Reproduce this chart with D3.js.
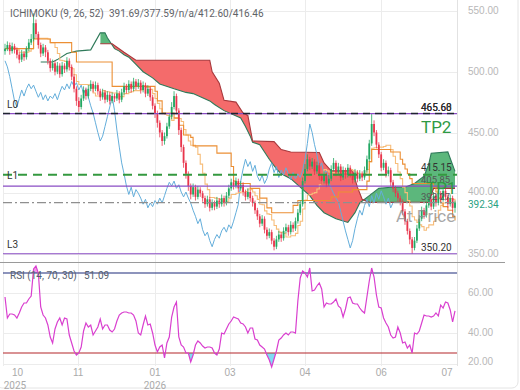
<!DOCTYPE html>
<html>
<head>
<meta charset="utf-8">
<script src="https://cdn.jsdelivr.net/npm/d3@7"></script>
<style>
  html, body { margin: 0; padding: 0; background: #fff; }
  svg { display: block; font-family: Roboto, 'Noto Sans', sans-serif; }
</style>
</head>
<body>
<div id="chart"></div>
<script>
// daily bars, open of each bar = previous close
const firstOpen = 517;
const closes = [
  519, 522, 517, 521, 518, 514, 510, 515, 512, 519,
  524, 527, 540, 531, 522, 515, 520, 516, 509, 503,
  507, 500, 505, 498, 505, 502, 509, 504, 496, 486,
  476, 471, 478, 485, 480, 486, 490, 486, 489, 484,
  479, 483, 477, 481, 476, 480, 478, 482, 477, 483,
  488, 485, 490, 486, 492, 488, 491, 485, 489, 482,
  486, 479, 472, 466, 458, 450, 443, 447, 455, 463,
  471, 480, 468, 452, 438, 425, 416, 406, 399, 405,
  397, 403, 400, 396, 391, 395, 388, 392, 389, 394,
  391, 396, 392, 398, 404, 409, 406, 410, 404, 407,
  401, 397, 401, 396, 392, 386, 381, 375, 379, 370,
  365, 368, 361, 356, 362, 366, 363, 369, 372, 368,
  374, 371, 377, 384, 391, 410, 420, 428, 422, 426,
  418, 423, 414, 410, 415, 408, 412, 420, 425, 417,
  422, 413, 419, 415, 421, 416, 411, 417, 412, 416,
  413, 419, 428, 441, 457, 450, 440, 432, 421, 425,
  416, 419, 409, 404, 400, 396, 393, 385, 377, 369,
  362, 355, 361, 371, 379, 386, 382, 390, 395, 389,
  398, 392, 400, 395, 402, 397, 391, 396, 388, 392.34
];
const highs = [
  523, 525, 524, 524, 523, 520, 516, 518, 517, 521,
  527, 531, 548, 543, 533, 524, 523, 522, 518, 511,
  510, 509, 508, 507, 508, 507, 512, 511, 506, 498,
  488, 479, 481, 488, 487, 489, 493, 492, 492, 491,
  486, 486, 485, 484, 483, 483, 482, 485, 484, 486,
  491, 490, 493, 492, 495, 494, 494, 493, 492, 491,
  489, 488, 481, 474, 468, 460, 452, 450, 458, 466,
  475, 484, 482, 470, 454, 440, 427, 418, 408, 408,
  407, 406, 405, 402, 398, 398, 397, 395, 394, 397,
  396, 399, 398, 401, 407, 412, 411, 413, 412, 410,
  409, 403, 404, 403, 398, 394, 388, 383, 382, 381,
  372, 371, 370, 363, 365, 369, 368, 372, 375, 374,
  377, 376, 380, 387, 394, 413, 424, 432, 430, 429,
  428, 426, 425, 416, 418, 417, 415, 423, 429, 427,
  425, 424, 422, 421, 424, 423, 418, 420, 419, 419,
  418, 422, 431, 444, 466, 460, 452, 442, 434, 428,
  427, 422, 421, 411, 406, 402, 398, 395, 387, 379,
  371, 364, 364, 374, 382, 389, 388, 393, 398, 397,
  401, 400, 403, 402, 405, 404, 399, 399, 398, 394
];
const lows = [
  514, 517, 514, 515, 515, 511, 507, 508, 509, 510,
  517, 522, 525, 528, 519, 512, 513, 512, 506, 500,
  501, 497, 498, 495, 496, 499, 500, 501, 493, 483,
  472, 467, 469, 476, 477, 478, 484, 483, 484, 481,
  476, 477, 474, 475, 473, 474, 475, 476, 474, 475,
  481, 482, 483, 483, 484, 485, 486, 482, 483, 479,
  480, 476, 469, 462, 454, 446, 439, 440, 445, 453,
  461, 469, 465, 448, 434, 421, 412, 402, 395, 397,
  394, 395, 397, 393, 388, 389, 385, 386, 386, 387,
  388, 389, 389, 390, 396, 402, 403, 404, 401, 402,
  398, 394, 395, 393, 389, 383, 378, 372, 373, 367,
  362, 363, 358, 353, 354, 360, 360, 361, 367, 365,
  366, 368, 369, 375, 382, 389, 408, 418, 419, 420,
  415, 416, 411, 407, 408, 405, 406, 410, 418, 414,
  415, 410, 411, 412, 413, 413, 408, 409, 409, 410,
  410, 411, 417, 426, 439, 447, 437, 429, 418, 419,
  413, 414, 406, 401, 397, 393, 390, 382, 374, 366,
  358, 350.2, 353, 359, 369, 377, 379, 380, 388, 386,
  387, 389, 390, 392, 393, 394, 388, 389, 385, 384
];

// ichimoku conversion line, one value per bar
const tenkan = [
  519, 519.5, 519.5, 519.5, 519, 518, 516, 516, 516, 516,
  517, 519, 527.5, 527.5, 527.5, 527.5, 527.5, 527.5, 527, 524,
  524, 520, 515, 509.5, 509, 508.5, 506.5, 503.5, 502.5, 497.5,
  492, 489.5, 489.5, 489.5, 489.5, 489, 486.5, 482.5, 480, 480,
  481, 484.5, 483.5, 483.5, 483, 482.5, 482.5, 482, 479.5, 479.5,
  482, 482, 483, 483.5, 484.5, 484.5, 484.5, 485, 488, 487,
  487, 485.5, 482, 478, 474, 469.5, 465.5, 465, 464, 463.5,
  460, 461.5, 461.5, 461.5, 459, 452.5, 448, 443, 439.5, 439.5,
  438, 432, 424, 416.5, 407.5, 403, 396.5, 396.5, 396, 395.5,
  395, 393.5, 392, 393, 396, 399, 399, 400, 400.5, 401,
  401, 401.5, 403.5, 403, 401, 398, 395, 391, 390.5, 385.5,
  383, 382.5, 378, 373.5, 370.5, 368, 367.5, 367, 364, 364,
  365, 365, 367, 373.5, 377, 387, 394.5, 398.5, 399, 400,
  400.5, 403.5, 407, 410.5, 419.5, 418.5, 417.5, 417, 417, 417,
  417, 417, 417, 417, 417.5, 419.5, 418.5, 417.5, 416.5, 416,
  416, 416, 419.5, 426, 437, 437.5, 437.5, 438, 438, 438.5,
  439.5, 439.5, 436, 430.5, 424.5, 417.5, 412, 405, 400.5, 394,
  389.5, 380.6, 378, 376, 374, 372.5, 369.6, 371.6, 374, 374,
  377, 380, 386, 390, 392, 392.5, 395.5, 395.5, 395, 391.69
];
// base line, [bar, value] where the step changes
const kijunSteps = [
  [0, 519], [12, 527], [19, 524], [28, 516], [30, 508], [45, 488], [63, 484],
  [64, 476], [66, 466], [71, 462], [73, 456], [75, 448], [78, 446], [79, 439],
  [89, 433], [95, 422], [96, 410], [97, 408], [103, 404], [107, 396], [110, 388],
  [112, 384], [121, 390], [123, 394], [137, 397], [140, 401], [146, 403],
  [152, 410], [153, 426], [154, 436], [162, 434], [166, 428], [167, 424],
  [168, 420], [169, 416], [170, 412], [171, 408], [180, 405], [181, 401],
  [182, 396], [183, 392], [184, 389], [186, 386], [188, 381], [189, 377.59]
];
// leading spans, [bar, value]
const spanA = [
  [15, 508], [20, 508], [22, 510], [26, 515], [30, 517], [36, 518], [38, 525],
  [40, 532], [42, 532], [43, 528], [45, 522], [46, 519], [48, 517], [50, 514],
  [52, 512], [55, 506], [58, 500], [62, 495], [65, 490], [71, 486], [76, 483],
  [79, 482], [86, 476], [88, 473], [92, 468], [99, 462], [101, 455], [103, 447],
  [104, 442], [107, 440], [109, 434], [111, 428], [114, 420], [116, 416],
  [120, 412], [124, 405], [128, 398], [131, 390], [134, 384], [139, 379],
  [144, 376], [147, 384], [149, 392], [153, 398], [157, 404], [162, 405],
  [168, 405], [172, 408], [176, 414], [178, 424], [179, 433], [186, 434], [189, 418]
];
const spanB = [
  [40, 523], [45, 523], [50, 516], [55, 509.5], [86, 509.5], [87, 500],
  [90, 490.5], [92, 476.5], [97, 475], [100, 466], [102, 464], [104, 443],
  [113, 442.5], [116, 436], [120, 434], [132, 433.5], [134, 425], [137, 418.5],
  [146, 418.5], [148, 405], [150, 395], [153, 392.5], [178, 392.5], [179, 398],
  [180, 404], [189, 404]
];

const rsi = [
  58, 47.5, 49.5, 49.5, 49, 47.5, 50, 53, 55, 55,
  57, 58.5, 72, 73.5, 70, 53, 49, 47.5, 44, 38,
  35, 42, 45.5, 47.5, 44, 47.5, 47, 39, 35, 31,
  29, 30, 33, 41, 45, 43, 44, 39, 41, 43,
  47, 42, 44, 44, 41.5, 40.5, 42, 46, 49, 50,
  50.5, 50.5, 50, 50, 49, 46, 40, 39, 44, 48.5,
  44, 44.5, 40, 34, 30.5, 33, 34, 27.5, 35, 38,
  48, 53, 55.5, 38, 34, 33, 30, 30, 25.5, 29,
  34, 36, 35, 33.5, 32.5, 33, 33, 32.5, 30, 29,
  32, 40, 39.5, 42, 44.5, 46, 48, 47.5, 47, 45,
  44.5, 43, 40, 42.5, 42.5, 37, 36.5, 34, 33, 32,
  29, 26.5, 23, 27, 31, 36.5, 37.5, 39, 40, 39,
  40.5, 40.5, 40, 56, 67.5, 71, 70, 68, 72.5, 61,
  61.5, 63.5, 65, 62, 53, 55, 54.5, 54.5, 55.5, 57,
  53.5, 52.5, 48, 52, 57.5, 58, 55, 54.5, 54.5, 52.5,
  51, 50, 58, 66, 72.5, 68, 59, 53, 52.5, 47.5,
  45, 43, 39, 37.5, 38, 43, 40, 35, 35.5, 32.5,
  34, 30, 40, 39.5, 41, 45, 49, 48.5, 48.5, 48,
  48.5, 50, 48.5, 54, 52.5, 55.5, 55, 51.5, 45.5, 51.09
];

const monthIdx = [-1, 30.7, 63, 94.5, 126, 158, 190];
const monthLabels = ['10', '11', '01', '03', '04', '06', '07'];
const yearLabels = ['2025', '', '2026', '', '', '', ''];
const priceTicks = [550, 500, 450, 400, 350];
const rsiTicks = [60, 40, 20];
const lastPrice = 392.34;

const levelL0 = 465.60, levelL1 = 415.15, levelTP1 = 405.85, levelL3 = 350.20;

function drawChart(selector) {
  const svg = d3.select(selector)
    .append('svg')
      .attr('width', 520)
      .attr('height', 390);

  const plotL = 3, plotR = 457;
  const x  = d3.scaleLinear().domain([0, closes.length - 1]).range([5, 455]);
  const y  = d3.scaleLinear().domain([350, 550]).range([254, 11]);
  const yr = d3.scaleLinear().domain([30, 70]).range([353, 273]);

  // frame
  svg.append('rect')
      .attr('x', -4).attr('y', -10)
      .attr('width', 522).attr('height', 398)
      .attr('rx', 6)
      .attr('fill', 'none')
      .attr('stroke', '#e4e4e4');

  // grid
  const grid = svg.append('g').attr('stroke', '#ececec').attr('stroke-width', 1);
  grid.selectAll('.hg')
      .data(priceTicks)
    .join('line')
      .attr('x1', plotL).attr('x2', plotR)
      .attr('y1', d => Math.round(y(d)) + 0.5).attr('y2', d => Math.round(y(d)) + 0.5);
  grid.selectAll('.rg')
      .data([60, 40])
    .join('line')
      .attr('x1', plotL).attr('x2', plotR)
      .attr('y1', d => Math.round(yr(d)) + 0.5).attr('y2', d => Math.round(yr(d)) + 0.5);
  grid.append('line')
      .attr('x1', plotL).attr('x2', plotR).attr('y1', 364.5).attr('y2', 364.5);
  grid.selectAll('.vg')
      .data(monthIdx)
    .join('line')
      .attr('x1', d => Math.round(x(d)) + 0.5).attr('x2', d => Math.round(x(d)) + 0.5)
      .attr('y1', 0).attr('y2', 366);
  svg.append('line')
      .attr('x1', plotR + 0.5).attr('x2', plotR + 0.5)
      .attr('y1', 0).attr('y2', 366)
      .attr('stroke', '#e2e2e2');

  // cloud: fill between the spans, green where A is on top, red where B is
  const defs = svg.append('defs');
  const aboveLine = d3.area().x(d => x(d[0])).y0(0).y1(d => y(d[1]));
  const belowLine = d3.area().x(d => x(d[0])).y0(262).y1(d => y(d[1]));
  const spanACloud = spanA.filter(d => d[0] >= spanB[0][0]);

  defs.append('clipPath').attr('id', 'aboveB')
    .append('path').attr('d', aboveLine(spanB));
  defs.append('clipPath').attr('id', 'aboveA')
    .append('path').attr('d', aboveLine(spanACloud));

  svg.append('path')
      .attr('d', belowLine(spanACloud))
      .attr('clip-path', 'url(#aboveB)')
      .attr('fill', '#5cb77c');
  svg.append('path')
      .attr('d', belowLine(spanB))
      .attr('clip-path', 'url(#aboveA)')
      .attr('fill', '#f46b6b');

  const pairLine = d3.line().x(d => x(d[0])).y(d => y(d[1]));
  svg.append('path')
      .attr('d', pairLine(spanA))
      .attr('fill', 'none')
      .attr('stroke', '#2f7a5a')
      .attr('stroke-width', 1.1);
  svg.append('path')
      .attr('d', pairLine(spanB))
      .attr('fill', 'none')
      .attr('stroke', '#a8383c')
      .attr('stroke-width', 1.1);

  // chikou = closes drawn 26 bars back
  const chikou = closes.map((c, i) => [i - 26, c]).filter(d => d[0] >= 0);
  svg.append('path')
      .attr('d', pairLine(chikou))
      .attr('fill', 'none')
      .attr('stroke', '#64aedb')
      .attr('stroke-width', 1);

  svg.append('path')
      .attr('d', d3.line().x((d, i) => x(i)).y(d => y(d)).curve(d3.curveStepAfter)(tenkan))
      .attr('fill', 'none')
      .attr('stroke', '#f7bd7a')
      .attr('stroke-width', 1.1);
  svg.append('path')
      .attr('d', pairLine.curve(d3.curveStepAfter)(kijunSteps))
      .attr('fill', 'none')
      .attr('stroke', '#ec8f34')
      .attr('stroke-width', 1.1);

  // candles
  const bars = closes.map((c, i) => ({
    i, c, o: i ? closes[i - 1] : firstOpen, h: highs[i], l: lows[i]
  }));
  const candle = svg.append('g')
    .selectAll('g')
      .data(bars)
    .join('g')
      .attr('fill', d => d.c >= d.o ? '#22a862' : '#e8364c')
      .attr('stroke', d => d.c >= d.o ? '#22a862' : '#e8364c');
  candle.append('line')
      .attr('x1', d => x(d.i)).attr('x2', d => x(d.i))
      .attr('y1', d => y(d.h)).attr('y2', d => y(d.l))
      .attr('stroke-width', 0.8);
  candle.append('rect')
      .attr('stroke', 'none')
      .attr('x', d => x(d.i) - 0.9)
      .attr('width', 1.8)
      .attr('y', d => y(Math.max(d.o, d.c)))
      .attr('height', d => Math.max(1, Math.abs(y(d.o) - y(d.c))));

  // level lines
  const lv = svg.append('g');
  const hline = (v, color, w, dash) => lv.append('line')
      .attr('x1', plotL).attr('x2', plotR)
      .attr('y1', y(v)).attr('y2', y(v))
      .attr('stroke', color)
      .attr('stroke-width', w)
      .attr('stroke-dasharray', dash);
  hline(levelL0, '#8a4cc4', 1.2, null);
  hline(levelL0, '#1f2430', 1.5, '7,5');
  hline(levelL1, '#34993f', 2, '9,6');
  hline(levelTP1, '#8a4cc4', 1.2, null);
  hline(lastPrice, '#8f8f8f', 1.2, '9,3,2,3');
  hline(levelL3, '#8a4cc4', 1.2, null);

  const txt = (tx, ty, s, size, color) => svg.append('text')
      .attr('x', tx).attr('y', ty)
      .attr('font-size', size)
      .attr('fill', color)
      .text(s);

  txt(7, y(levelL0) - 6, 'L0', 10, '#333');
  txt(7, y(levelL1) + 4, 'L1', 10, '#333');
  txt(7, y(levelL3) - 6, 'L3', 10, '#333');

  txt(421, y(levelL0) - 3, '465.60', 10, '#2b2b2b');
  txt(421, y(levelL0) - 3, '465.68', 10, '#2b2b2b');
  txt(421, y(levelL1) - 4, '415.15', 10, '#333');
  txt(421, y(levelTP1) - 3, '405.85', 9.5, '#555');
  txt(421, y(lastPrice) - 3, '392.27', 9.5, '#555');
  txt(421, y(levelL3) - 3, '350.20', 10, '#333');
  txt(421, y(levelL0) + 19, 'TP2', 17, '#2e9a44');
  txt(426, y(levelTP1) + 8, 'TP1', 17, '#2e9a44');
  txt(396, y(lastPrice) + 19, 'At Price', 17, '#8a8a8a').attr('opacity', 0.75);

  // price axis
  const pAxis = svg.append('g')
      .attr('transform', 'translate(466,0)')
      .call(d3.axisRight(y).tickValues(priceTicks).tickFormat(d3.format('.2f')).tickSize(0).tickPadding(2));
  pAxis.select('.domain').remove();
  pAxis.selectAll('.tick')
      .attr('transform', d => `translate(0,${d === 400 ? y(d) - 1.5 : y(d)})`);
  pAxis.selectAll('text').attr('fill', '#b8b8b8').attr('font-size', 10).attr('font-family', null);

  svg.append('text')
      .attr('x', 468).attr('y', y(lastPrice) + 5.5)
      .attr('font-size', 10)
      .attr('fill', '#2aa182')
      .text(lastPrice.toFixed(2));

  // pane separator
  svg.append('line')
      .attr('x1', 0).attr('x2', 505)
      .attr('y1', 262.5).attr('y2', 262.5)
      .attr('stroke', '#9a9a9a');

  // RSI pane
  defs.append('clipPath').attr('id', 'ob')
    .append('rect').attr('x', 0).attr('y', 262).attr('width', 460).attr('height', yr(70) - 262);
  defs.append('clipPath').attr('id', 'os')
    .append('rect').attr('x', 0).attr('y', yr(30)).attr('width', 460).attr('height', 380 - yr(30));

  svg.append('path')
      .attr('d', d3.area().x((d, i) => x(i)).y0(yr(70)).y1(d => yr(d))(rsi))
      .attr('clip-path', 'url(#ob)')
      .attr('fill', '#f29ae6');
  svg.append('path')
      .attr('d', d3.area().x((d, i) => x(i)).y0(yr(30)).y1(d => yr(d))(rsi))
      .attr('clip-path', 'url(#os)')
      .attr('fill', '#7fdcf2');

  svg.append('line')
      .attr('x1', plotL).attr('x2', plotR)
      .attr('y1', yr(70)).attr('y2', yr(70))
      .attr('stroke', '#1c2a7a').attr('stroke-width', 1.2);
  svg.append('line')
      .attr('x1', plotL).attr('x2', plotR)
      .attr('y1', yr(30)).attr('y2', yr(30))
      .attr('stroke', '#b3262a').attr('stroke-width', 1.2);

  svg.append('path')
      .attr('d', d3.line().x((d, i) => x(i)).y(d => yr(d))(rsi))
      .attr('fill', 'none')
      .attr('stroke', '#d93fcf')
      .attr('stroke-width', 1.2);

  const rAxis = svg.append('g')
      .attr('transform', 'translate(466,0)')
      .call(d3.axisRight(yr).tickValues(rsiTicks).tickFormat(d3.format('.2f')).tickSize(0).tickPadding(2));
  rAxis.select('.domain').remove();
  rAxis.selectAll('.tick')
      .attr('transform', d => `translate(0,${Math.min(yr(d), 362)})`);
  rAxis.selectAll('text').attr('fill', '#b8b8b8').attr('font-size', 10).attr('font-family', null);

  // time axis
  const tAxis = svg.append('g')
      .attr('transform', 'translate(0,367)')
      .call(d3.axisBottom(x).tickValues(monthIdx).tickFormat((d, i) => monthLabels[i]).tickSize(0).tickPadding(2));
  tAxis.select('.domain').remove();
  tAxis.selectAll('.tick')
      .attr('transform', d => `translate(${Math.max(17.5, Math.min(447, x(d)))},0)`);
  tAxis.selectAll('text').attr('fill', '#aaaaaa').attr('font-size', 10).attr('font-family', null);

  svg.append('g')
    .selectAll('text')
      .data(monthIdx)
    .join('text')
      .attr('x', d => Math.max(15, Math.min(447, x(d))))
      .attr('y', 389)
      .attr('text-anchor', 'middle')
      .attr('font-size', 10)
      .attr('fill', '#aaaaaa')
      .text((d, i) => yearLabels[i]);

  // headers
  txt(10, 17, 'ICHIMOKU (9, 26, 52)', 10, '#5f6368');
  txt(109, 17, '391.69/377.59/n/a/412.60/416.46', 10, '#5f6368');
  txt(10, 279, 'RSI (14, 70, 30)', 10, '#55606e');
  txt(84, 279, '51.09', 10, '#55606e');
}

drawChart('#chart');
</script>
</body>
</html>
